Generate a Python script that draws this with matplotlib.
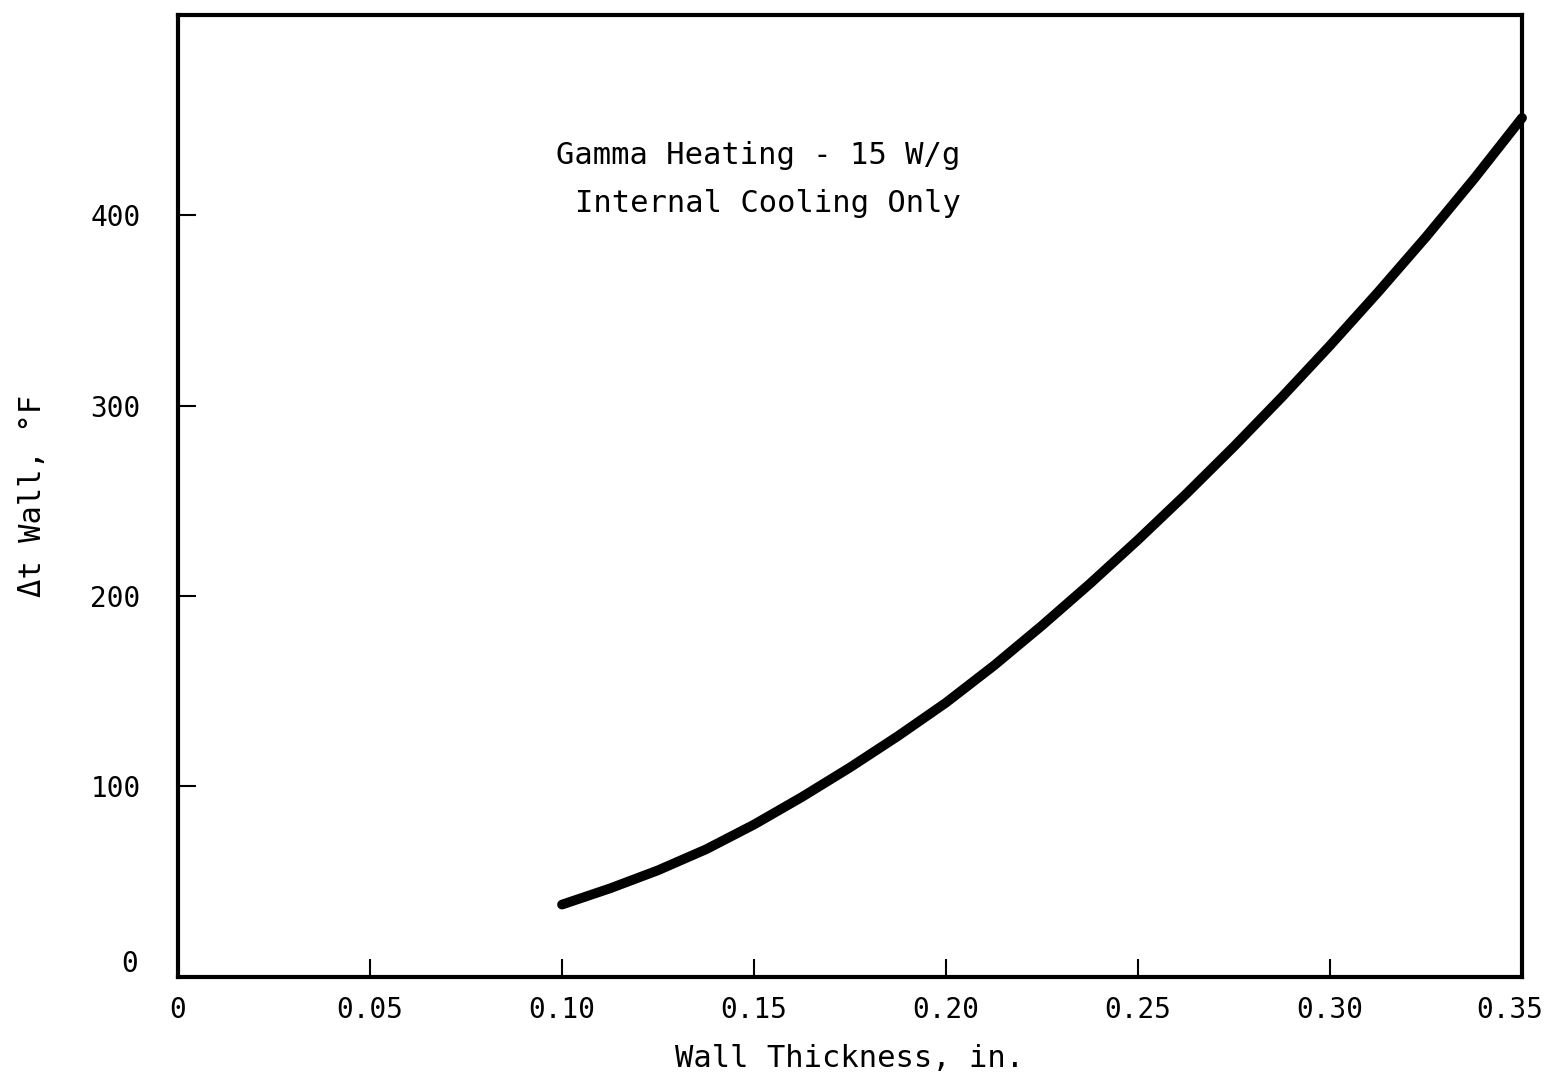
import numpy as np
import matplotlib.pyplot as plt
from matplotlib.transforms import ScaledTranslation

plt.rcParams['font.family'] = ['DejaVu Sans Mono']

# wall thickness (in.) and wall delta-t (F)
thickness = [0.100, 0.1125, 0.125, 0.1375, 0.150, 0.1625, 0.175, 0.1875,
             0.200, 0.2125, 0.225, 0.2375, 0.250, 0.2625, 0.275, 0.2875,
             0.300, 0.3125, 0.325, 0.3375, 0.350]
delta_t = [38, 46.5, 56, 67, 80, 94.5, 110, 126.5,
           144, 163.5, 184.5, 206.5, 229.5, 253.5, 278.5, 304.5,
           331.5, 359.5, 388.5, 419, 451]

xticks = [0, 0.05, 0.10, 0.15, 0.20, 0.25, 0.30, 0.35]
xtick_labels = ["0", "0.05", "0.10", "0.15", "0.20", "0.25", "0.30", "0.35"]
yticks = [0, 100, 200, 300, 400]

fig = plt.figure(figsize=(15.49, 10.73), dpi=100)
ax = fig.add_axes([0.1149, 0.0895, 0.8677, 0.8965])

ax.plot(thickness, delta_t, color="black", linewidth=7,
        solid_capstyle="round", solid_joinstyle="round", clip_on=False)

ax.set_xlim(0, 0.35)
ax.set_ylim(1.5, 505)
ax.set_xticks(xticks)
ax.set_xticklabels(xtick_labels)
ax.set_yticks(yticks)
ax.tick_params(direction="in", length=13, width=1.5, labelsize=20, pad=14)
ax.tick_params(axis="y", pad=27)
for s in ax.spines.values():
    s.set_linewidth(3)

# last x label sits a bit left so it stays inside the figure
last = ax.get_xticklabels()[-1]
last.set_transform(last.get_transform() + ScaledTranslation(-0.12, 0, fig.dpi_scale_trans))
# the y "0" sits slightly above the axis line, as in the original
zero = ax.get_yticklabels()[0]
zero.set_transform(zero.get_transform() + ScaledTranslation(-0.02, 0.16, fig.dpi_scale_trans))

ax.set_xlabel("Wall Thickness, in.", fontsize=22, labelpad=14)
ax.set_ylabel("\u0394t Wall, \u00b0F", fontsize=22, labelpad=31)

ax.text(0.4315, 0.854, "Gamma Heating - 15 W/g", transform=ax.transAxes,
        ha="center", va="center", fontsize=22)
ax.text(0.439, 0.804, "Internal Cooling Only", transform=ax.transAxes,
        ha="center", va="center", fontsize=22)

fig.savefig("out.png", dpi=100)
